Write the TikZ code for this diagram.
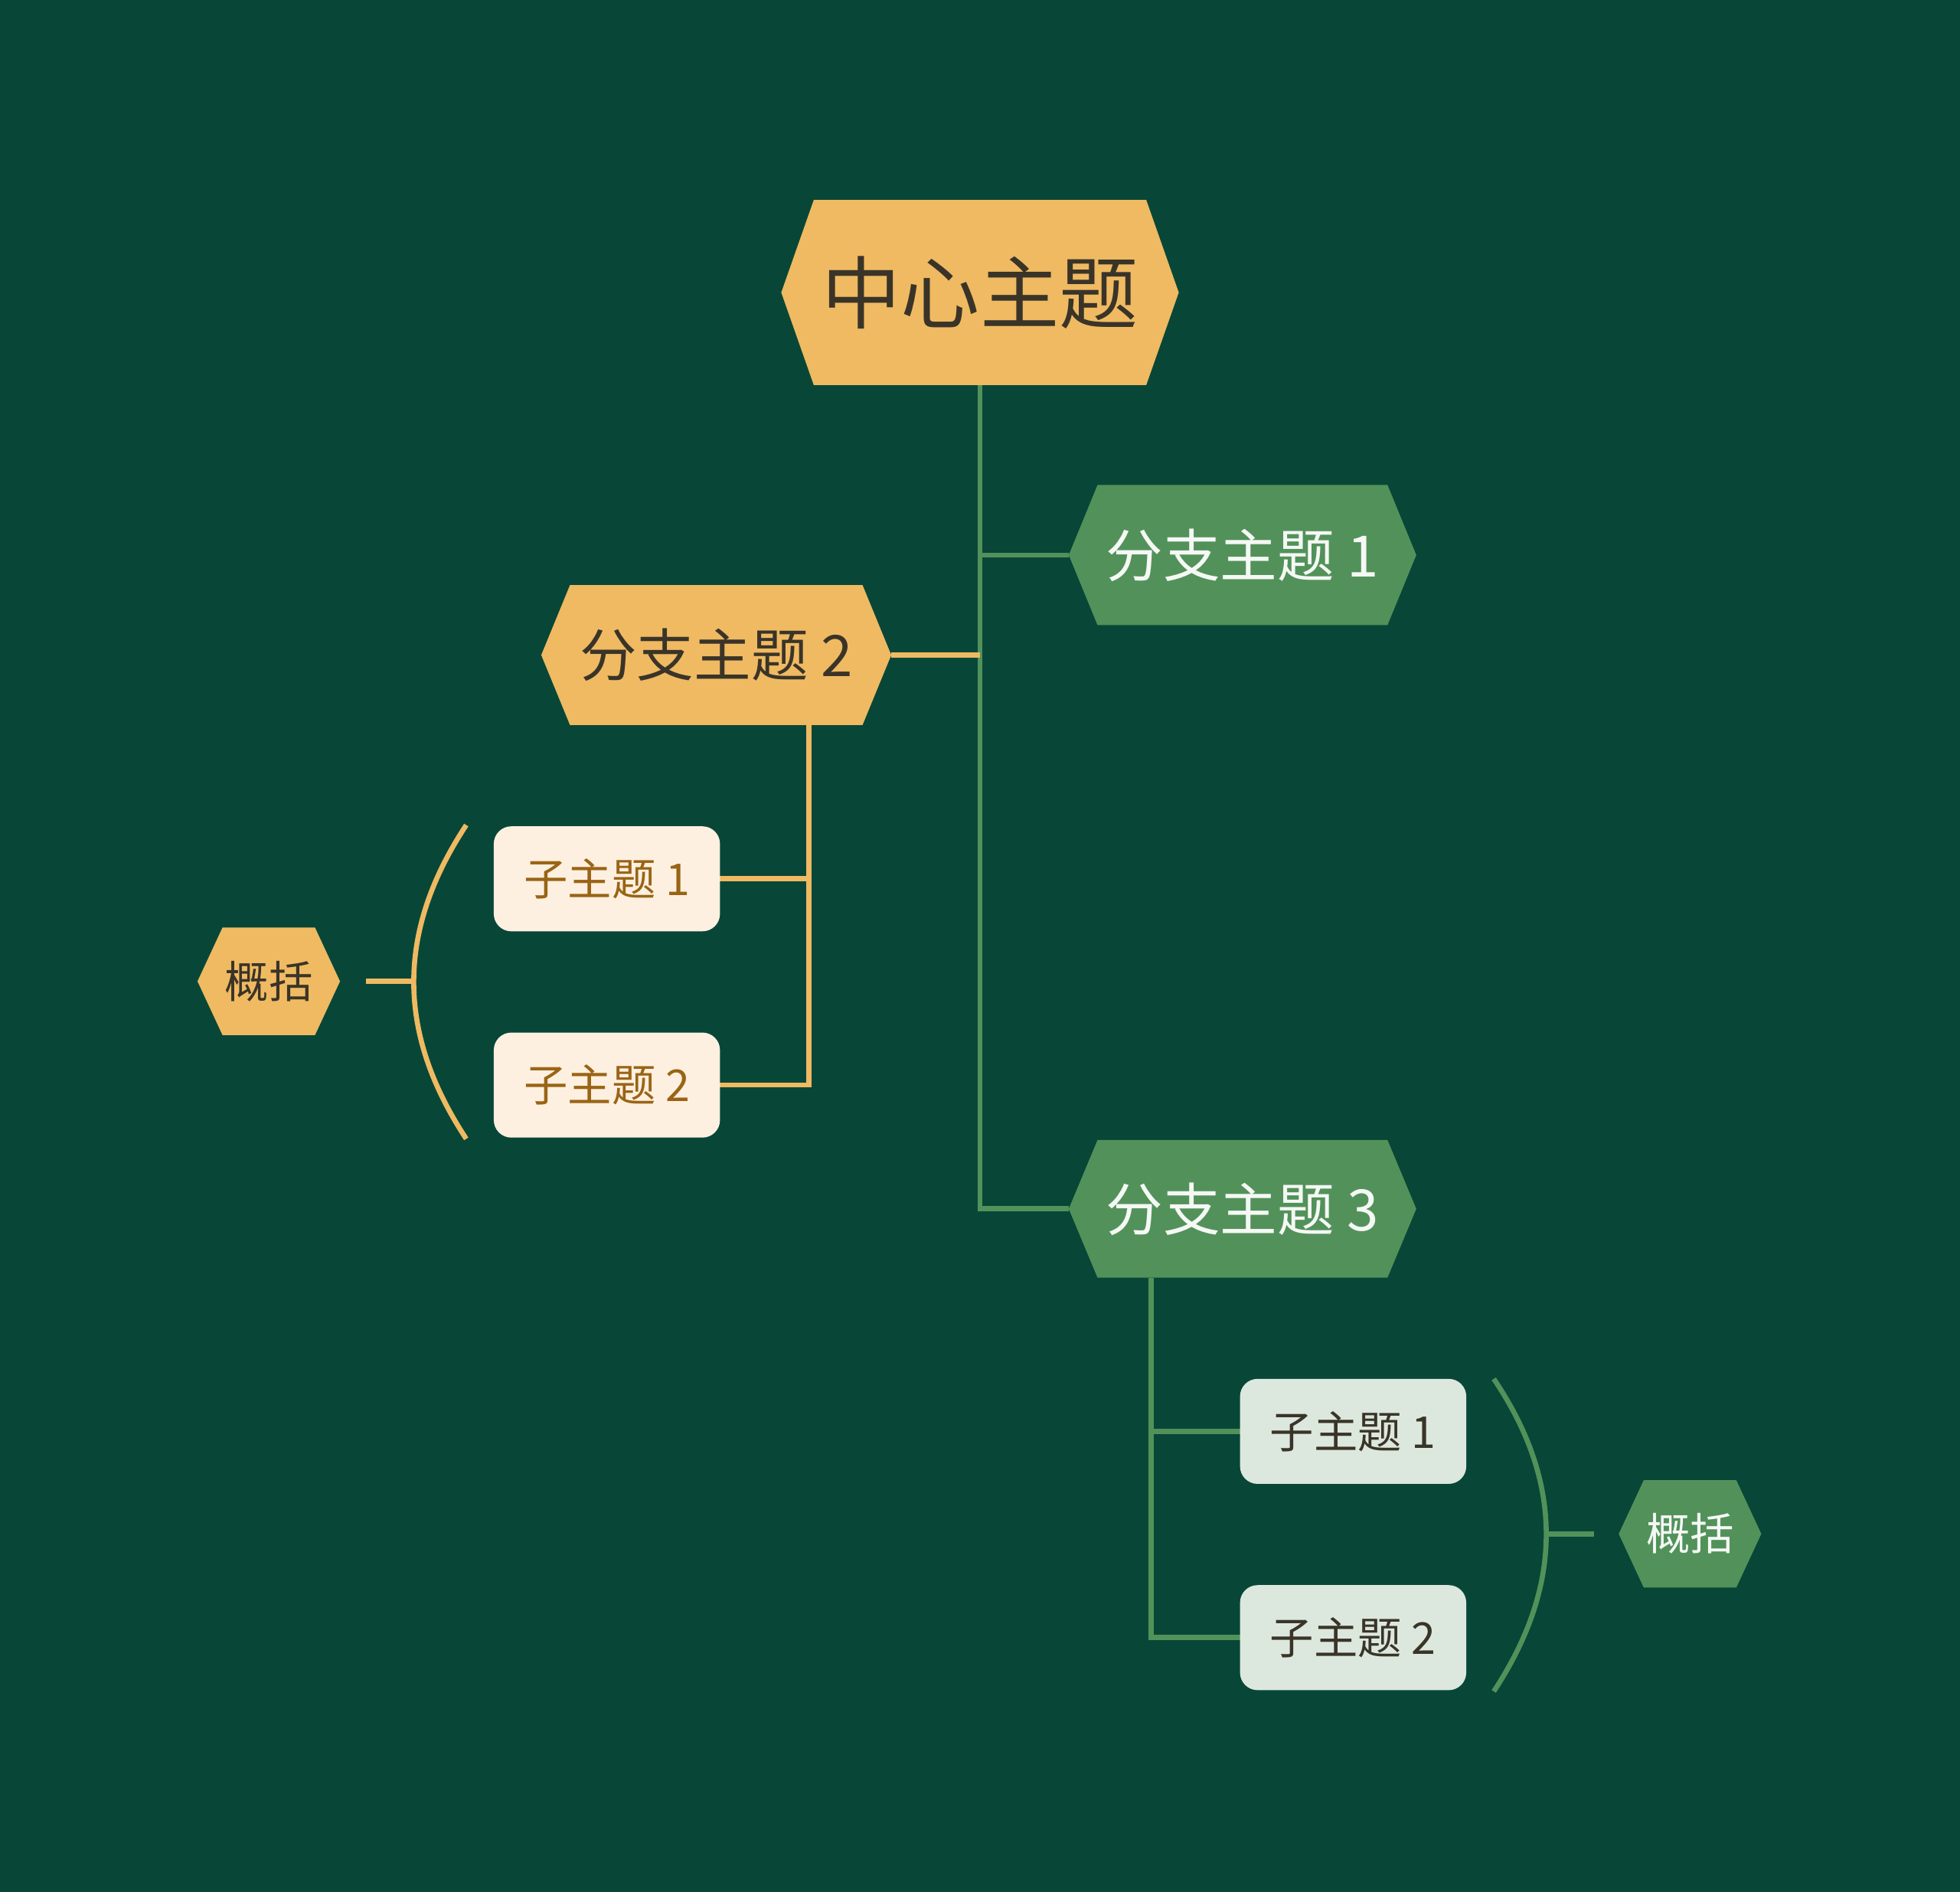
\documentclass[tikz,border=0pt]{standalone}
\usepackage{fontspec}
\setmainfont{Noto Sans CJK SC}
\definecolor{bg}{HTML}{084737}
\definecolor{org}{HTML}{EFBA62}
\definecolor{grn}{HTML}{52925A}
\definecolor{cream}{HTML}{FDF0E0}
\definecolor{lgrn}{HTML}{DCE8DD}
\definecolor{dtext}{HTML}{3A3428}
\definecolor{otext}{HTML}{9A6415}
\newcommand\myhex[7]{% name cx cy hw hh inset fill
\fill[#7] ({#2-#4},#3) -- ({#2-#4+#6},{#3-#5}) -- ({#2+#4-#6},{#3-#5}) -- ({#2+#4},#3) -- ({#2+#4-#6},{#3+#5}) -- ({#2-#4+#6},{#3+#5}) -- cycle;
\coordinate (#1) at (#2,#3);}
\begin{document}
\begin{tikzpicture}[x=0.02cm,y=-0.02cm,
  oline/.style={draw=org,line width=2.3pt},
  gline/.style={draw=grn,line width=2.3pt},
  sub/.style={rounded corners=0.28cm,minimum width=3.62cm,minimum height=1.68cm,inner sep=0pt,font=\fontsize{20}{24}\selectfont}]
\useasboundingbox (0,0) rectangle (1568,1513);
\fill[bg] (-10,-10) rectangle (1580,1525);
% connectors
\coordinate (cb) at (784,308);
\coordinate (t1) at (784,444);
\coordinate (t3) at (784,967);
\coordinate (t2) at (784,524);
\draw[gline] (cb) -- (t3) -- (855,967);
\draw[gline] (t1) -- (855,444);
\draw[oline] (713,524) -- (t2);
\draw[oline] (647,580) -- (647,868) -- (576,868);
\draw[oline] (647,703) -- (576,703);
\draw[gline] (921,1022) -- (921,1310) -- (992,1310);
\draw[gline] (921,1145) -- (992,1145);
% braces
\draw[oline] (373,660) .. controls (317,745) and (317,826) .. (373,911);
\draw[oline] (331,785) -- (293,785);
\draw[gline] (1195,1103) .. controls (1251,1186) and (1251,1268) .. (1195,1353);
\draw[gline] (1237,1227) -- (1275,1227);
% hexes
\myhex{c}{784}{234}{159}{74}{26}{org}
\node[text=dtext,font=\fontsize{36}{40}\selectfont] at (c) {中心主题};
\myhex{b1}{994}{444}{139}{56}{23}{grn}
\node[text=white!94!grn,font=\fontsize{26}{30}\selectfont] at (b1) {分支主题 1};
\myhex{b2}{573}{524}{140}{56}{23}{org}
\node[text=dtext,font=\fontsize{26}{30}\selectfont] at (b2) {分支主题 2};
\myhex{b3}{994}{967}{139}{55}{23}{grn}
\node[text=white!94!grn,font=\fontsize{26}{30}\selectfont] at (b3) {分支主题 3};
\myhex{s1}{215}{785}{57}{43}{20}{org}
\node[text=dtext,font=\fontsize{20}{24}\selectfont] at (s1) {概括};
\myhex{s2}{1352}{1227}{57}{43}{20}{grn}
\node[text=white!94!grn,font=\fontsize{20}{24}\selectfont] at (s2) {概括};
% subtopics
\node[sub,fill=cream,text=otext] (l1) at (485.5,703) {子主题 1};
\node[sub,fill=cream,text=otext] (l2) at (485.5,868) {子主题 2};
\node[sub,fill=lgrn,text=dtext] (r1) at (1082.5,1145) {子主题 1};
\node[sub,fill=lgrn,text=dtext] (r2) at (1082.5,1310) {子主题 2};
\end{tikzpicture}
\end{document}
